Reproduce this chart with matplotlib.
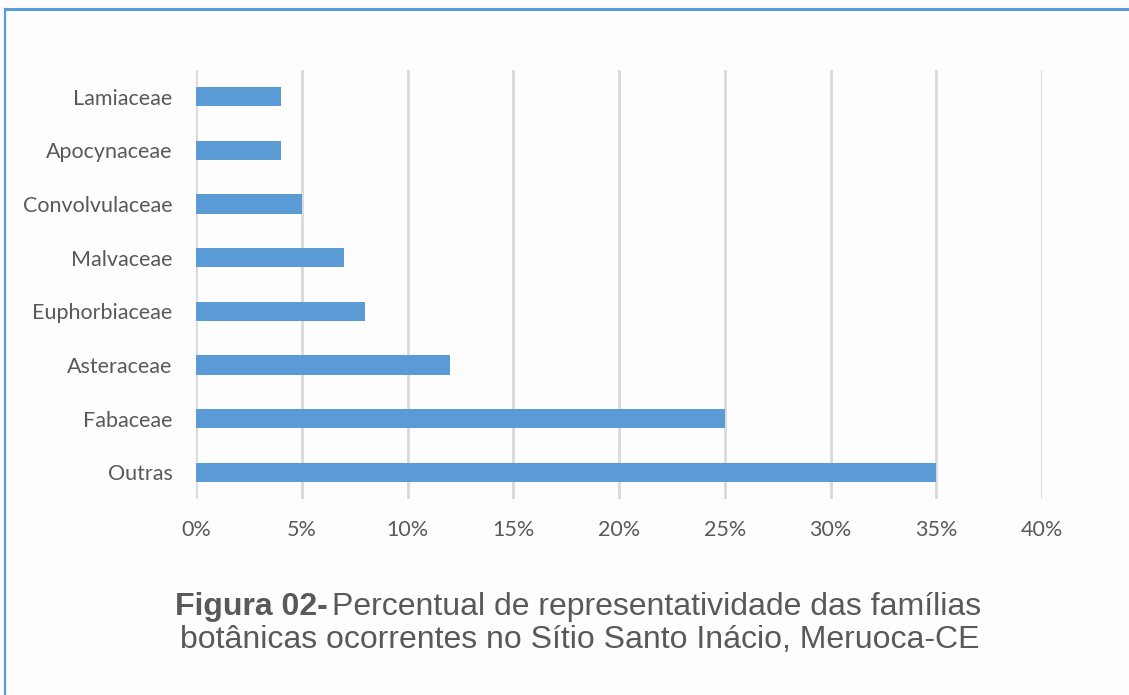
import matplotlib.pyplot as plt
from matplotlib.lines import Line2D

familias = ['Outras', 'Fabaceae', 'Asteraceae', 'Euphorbiaceae', 'Malvaceae',
            'Convolvulaceae', 'Apocynaceae', 'Lamiaceae']
percentual = [35, 25, 12, 8, 7, 5, 4, 4]
xticks = [0, 5, 10, 15, 20, 25, 30, 35, 40]

fig = plt.figure(figsize=(11.29, 6.95), dpi=100)
fig.patch.set_facecolor('#fdfdfd')
ax = fig.add_axes([0.1736, 0.282, 0.7494, 0.6173])
ax.set_facecolor('none')

ax.barh(range(len(familias)), percentual, height=0.36, color='#5b9bd5', zorder=3)
ax.set_ylim(-0.5, len(familias) - 0.5)
ax.set_xlim(0, 40)
ax.set_xticks(xticks)
ax.set_xticklabels([f'{t}%' for t in xticks])
ax.set_yticks(range(len(familias)))
ax.set_yticklabels(familias)
ax.grid(axis='x', color='#d9d9d9', linewidth=2, zorder=0)
for s in ax.spines.values():
    s.set_visible(False)
ax.tick_params(length=0, labelsize=15.5, colors='#595959', labelfontfamily='Lato')
ax.tick_params(axis='x', pad=15)
ax.tick_params(axis='y', pad=17)

# borda azul do quadro
fig.add_artist(Line2D([5/1129, 5/1129], [0, 1 - 9/695], color='#5b9bd5', lw=1.6,
                      transform=fig.transFigure))
fig.add_artist(Line2D([5/1129, 1], [1 - 9/695, 1 - 9/695], color='#5b9bd5', lw=2.2,
                      transform=fig.transFigure))

# legenda da figura
fs = 23
y1 = 1 - 607/695
y2 = 1 - 640/695
cap_b = fig.text(175/1129, y1, 'Figura 02-', fontsize=fs, fontweight='bold',
                 color='#595959', family='Liberation Sans', va='center')
fig.canvas.draw()
bb = cap_b.get_window_extent()
fig.text(bb.x1 / fig.bbox.width + 0.004, y1,
         'Percentual de representatividade das famílias', fontsize=fs,
         color='#595959', family='Liberation Sans', va='center')
fig.text(580/1129, y2, 'botânicas ocorrentes no Sítio Santo Inácio, Meruoca-CE',
         fontsize=fs, color='#595959', family='Liberation Sans', va='center', ha='center')

fig.savefig('out.png', dpi=100, facecolor=fig.get_facecolor())
